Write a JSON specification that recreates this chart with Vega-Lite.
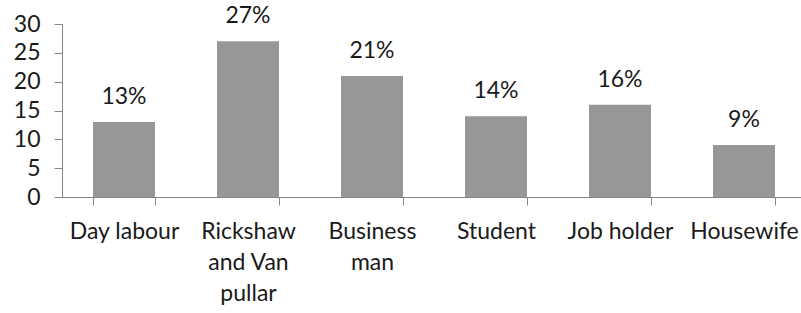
{
  "$schema": "https://vega.github.io/schema/vega-lite/v6.json",
  "autosize": {"type": "none"},
  "padding": {"left": 62, "top": 24, "right": 0, "bottom": 116},
  "width": 744,
  "height": 173,
  "background": "white",
  "config": {
    "view": {"stroke": null},
    "font": "Lato",
    "axis": {"grid": false, "domainColor": "#868686", "tickColor": "#868686", "labelColor": "#1a1a1a", "labelFont": "Lato", "title": null}
  },
  "data": {
    "values": [
      {"occupation": "Day labour", "value": 13, "label": "13%"},
      {"occupation": "Rickshaw and Van pullar", "value": 27, "label": "27%"},
      {"occupation": "Business man", "value": 21, "label": "21%"},
      {"occupation": "Student", "value": 14, "label": "14%"},
      {"occupation": "Job holder", "value": 16, "label": "16%"},
      {"occupation": "Housewife", "value": 9, "label": "9%"}
    ]
  },
  "encoding": {
    "x": {
      "field": "occupation",
      "type": "nominal",
      "sort": null,
      "scale": {"paddingInner": 0.5, "paddingOuter": 0.25},
      "axis": {
        "labelAngle": 0,
        "labelFontSize": 23,
        "labelPadding": 15,
        "labelLineHeight": 31,
        "labelBaseline": "top",
        "tickSize": 8,
        "tickBand": "extent",
        "labelExpr": "datum.label == 'Rickshaw and Van pullar' ? ['Rickshaw', 'and Van', 'pullar'] : datum.label == 'Business man' ? ['Business', 'man'] : datum.label"
      }
    },
    "y": {
      "field": "value",
      "type": "quantitative",
      "scale": {"domain": [0, 30], "nice": false},
      "axis": {"values": [0, 5, 10, 15, 20, 25, 30], "labelFontSize": 23, "tickSize": 8, "labelPadding": 14}
    }
  },
  "layer": [
    {"mark": {"type": "bar", "color": "#979797"}},
    {"mark": {"type": "text", "baseline": "alphabetic", "dy": -18, "fontSize": 23, "color": "#1a1a1a"}, "encoding": {"text": {"field": "label"}}}
  ]
}
